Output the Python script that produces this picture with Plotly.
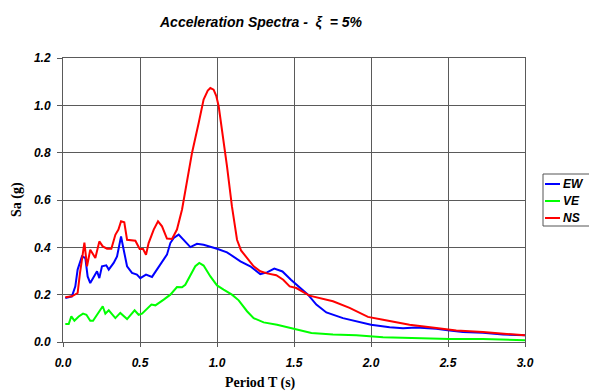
import plotly.graph_objects as go

# Response spectra, 5% damping: period (s) vs spectral acceleration (g)
ns_period = [0.015, 0.058, 0.095, 0.11, 0.139, 0.156, 0.177, 0.21, 0.236, 0.258, 0.286, 0.314,
             0.34, 0.36, 0.377, 0.398, 0.416, 0.448, 0.47, 0.498, 0.52, 0.539, 0.556, 0.589,
             0.617, 0.643, 0.675, 0.708, 0.74, 0.773, 0.805, 0.838, 0.881, 0.913, 0.94, 0.957, 0.978,
             0.995, 1.011, 1.043, 1.065, 1.097, 1.13, 1.156, 1.195, 1.238, 1.281, 1.325, 1.385, 1.43,
             1.472, 1.515, 1.60, 1.753, 1.861, 1.98, 2.078, 2.25, 2.424, 2.554, 2.727, 2.857, 3.0]
ns_sa = [0.189, 0.193, 0.207, 0.29, 0.42, 0.32, 0.39, 0.355, 0.425, 0.404, 0.394, 0.394,
         0.453, 0.475, 0.51, 0.506, 0.432, 0.428, 0.428, 0.393, 0.393, 0.369, 0.418, 0.475,
         0.51, 0.489, 0.437, 0.435, 0.475, 0.56, 0.672, 0.80, 0.925, 1.024, 1.062, 1.073, 1.066,
         1.04, 0.996, 0.855, 0.742, 0.573, 0.432, 0.387, 0.355, 0.32, 0.299, 0.29, 0.282, 0.263,
         0.235, 0.228, 0.196, 0.172, 0.144, 0.106, 0.094, 0.073, 0.059, 0.049, 0.042, 0.035, 0.028]

ew_period = [0.015, 0.058, 0.08, 0.095, 0.123, 0.145, 0.16, 0.177, 0.221, 0.236, 0.253, 0.281,
             0.297, 0.329, 0.351, 0.377, 0.394, 0.416, 0.448, 0.48, 0.502, 0.539, 0.578, 0.61,
             0.643, 0.675, 0.697, 0.719, 0.751, 0.784, 0.827, 0.87, 0.913, 1.0, 1.065, 1.152,
             1.216, 1.281, 1.325, 1.372, 1.425, 1.48, 1.537, 1.591, 1.645, 1.71, 1.818, 1.926,
             2.0, 2.121, 2.208, 2.294, 2.424, 2.511, 2.597, 2.727, 2.857, 3.0]
ew_sa = [0.186, 0.193, 0.235, 0.306, 0.362, 0.355, 0.277, 0.249, 0.299, 0.27, 0.32, 0.324,
         0.306, 0.334, 0.362, 0.446, 0.39, 0.32, 0.292, 0.285, 0.27, 0.285, 0.275, 0.306,
         0.341, 0.369, 0.418, 0.44, 0.454, 0.432, 0.401, 0.415, 0.411, 0.394, 0.379, 0.341,
         0.32, 0.287, 0.294, 0.31, 0.298, 0.263, 0.232, 0.2, 0.158, 0.125, 0.101, 0.083,
         0.073, 0.062, 0.058, 0.061, 0.056, 0.049, 0.042, 0.039, 0.032, 0.028]

ve_period = [0.015, 0.037, 0.054, 0.074, 0.102, 0.13, 0.152, 0.177, 0.195, 0.221, 0.242, 0.258,
             0.275, 0.297, 0.34, 0.372, 0.416, 0.465, 0.491, 0.513, 0.574, 0.6, 0.654, 0.697,
             0.74, 0.773, 0.794, 0.827, 0.859, 0.885, 0.913, 0.957, 1.0, 1.043, 1.097, 1.141,
             1.195, 1.238, 1.303, 1.39, 1.455, 1.54, 1.613, 1.753, 1.905, 2.078, 2.294, 2.511,
             2.727, 3.0]
ve_sa = [0.076, 0.076, 0.108, 0.09, 0.108, 0.12, 0.115, 0.09, 0.09, 0.115, 0.13, 0.151,
         0.12, 0.134, 0.101, 0.123, 0.097, 0.134, 0.115, 0.12, 0.158, 0.155, 0.179, 0.2,
         0.232, 0.231, 0.242, 0.285, 0.32, 0.334, 0.323, 0.277, 0.239, 0.221, 0.2, 0.176,
         0.13, 0.101, 0.083, 0.073, 0.063, 0.052, 0.038, 0.032, 0.028, 0.02, 0.015, 0.013,
         0.013, 0.007]

x_ticks = [0.0, 0.5, 1.0, 1.5, 2.0, 2.5, 3.0]
y_ticks = [0.0, 0.2, 0.4, 0.6, 0.8, 1.0, 1.2]

series = [
    ("EW", ew_period, ew_sa, "#0000FF"),
    ("VE", ve_period, ve_sa, "#00FF00"),
    ("NS", ns_period, ns_sa, "#FF0000"),
]

W, H = 589, 391
L, R, T, B = 63, 64, 58, 49
PW, PH = W - L - R, H - T - B


def px_x(p):
    """Horizontal pixel -> paper fraction."""
    return (p - L) / PW


def px_y(p):
    """Vertical pixel (from top) -> paper fraction."""
    return (H - B - p) / PH


fig = go.Figure()
for name, per, sa, color in series:
    fig.add_trace(go.Scatter(x=per, y=sa, mode="lines", name=name,
                             line=dict(color=color, width=2), showlegend=False))

tick_font = dict(family="Liberation Sans, Arial", size=12, color="black")
grid = "#5a5a5a"

fig.update_layout(
    width=W, height=H,
    margin=dict(l=L, r=R, t=T, b=B, autoexpand=False),
    paper_bgcolor="white", plot_bgcolor="white",
    title=dict(
        text="<b><i>Acceleration Spectra -  ξ  = 5%</i></b>",
        font=dict(family="Liberation Sans, Arial", size=14, color="black"),
        x=261 / W, xanchor="center", y=1 - 22 / H, yanchor="middle",
    ),
    xaxis=dict(
        range=[0, 3.0], tickvals=x_ticks,
        ticktext=[f"<b><i>{v:.1f}</i></b>" for v in x_ticks],
        tickfont=tick_font, showgrid=True, gridcolor=grid, gridwidth=1,
        showline=True, linecolor=grid, mirror=True, zeroline=False,
        ticks="outside", ticklen=4, tickcolor=grid, ticklabelstandoff=6,
    ),
    yaxis=dict(
        range=[0, 1.2], tickvals=y_ticks,
        ticktext=[f"<b><i>{v:.1f}</i></b>" for v in y_ticks],
        tickfont=tick_font, showgrid=True, gridcolor=grid, gridwidth=1,
        showline=True, linecolor=grid, mirror=True, zeroline=False,
        ticks="outside", ticklen=5, tickcolor=grid, ticklabelstandoff=4,
    ),
    showlegend=False,
)

# Axis titles
fig.add_annotation(text="<b>Period T (s)</b>", xref="paper", yref="paper",
                   x=px_x(260), y=px_y(383), showarrow=False,
                   xanchor="center", yanchor="middle",
                   font=dict(family="Liberation Serif, Times New Roman", size=14, color="black"))
fig.add_annotation(text="<b>Sa (g)</b>", xref="paper", yref="paper",
                   x=px_x(17), y=px_y(200), showarrow=False, textangle=-90,
                   xanchor="center", yanchor="middle",
                   font=dict(family="Liberation Serif, Times New Roman", size=14, color="black"))

# Legend box with line samples and bold italic labels
fig.add_shape(type="rect", xref="paper", yref="paper",
              x0=px_x(543), x1=px_x(593), y0=px_y(226), y1=px_y(174),
              line=dict(color="#555", width=1), fillcolor="white", layer="above")
for i, (name, _, _, color) in enumerate(series):
    yy = px_y(184 + 17 * i)
    fig.add_shape(type="line", xref="paper", yref="paper",
                  x0=px_x(545), x1=px_x(560), y0=yy, y1=yy,
                  line=dict(color=color, width=2), layer="above")
    fig.add_annotation(text=f"<b><i>{name}</i></b>", xref="paper", yref="paper",
                       x=px_x(561), y=yy, showarrow=False, xanchor="left", yanchor="middle",
                       font=dict(family="Liberation Sans, Arial", size=12, color="black"))

fig.write_html("out.html")
